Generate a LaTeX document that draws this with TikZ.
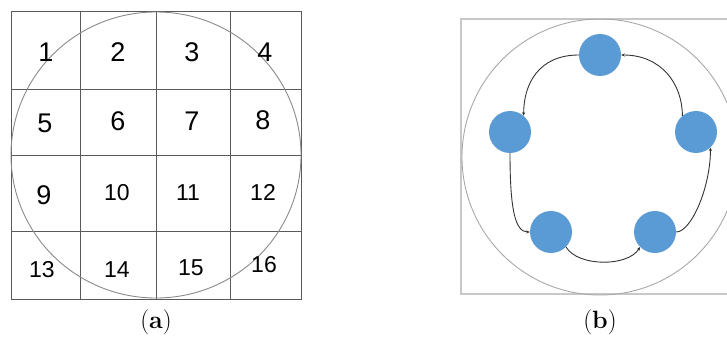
\documentclass[tikz,border=0pt]{standalone}
\usepackage{fontspec}
\newfontfamily\numfont{Liberation Sans}
\usepackage{xcolor}
\usepackage{tikz}
\usetikzlibrary{arrows.meta}
\definecolor{gridgray}{HTML}{5A5A5A}
\definecolor{ringgray}{HTML}{8A8A8A}
\definecolor{framegray}{HTML}{C8C8C8}
\definecolor{outergray}{HTML}{A8A8A8}
\definecolor{dotblue}{HTML}{5B9BD5}
\definecolor{flowgray}{HTML}{333333}
\tikzset{
  digbig/.style={font=\numfont\fontsize{27}{27}\selectfont,inner sep=0pt},
  digsmall/.style={font=\numfont\fontsize{23}{23}\selectfont,inner sep=0pt},
  dot/.style={circle,fill=dotblue,minimum size=42pt,inner sep=0pt},
  flow/.style={draw=flowgray,line width=0.9pt,-{Stealth[length=3.5pt,width=3pt]}},
  capt/.style={font=\fontsize{25}{30}\selectfont,inner sep=0pt}
}

\begin{document}
\begin{tikzpicture}[x=1pt,y=1pt]
  \useasboundingbox (0,0) rectangle (727,340);
  % (a) grid over the circle
  \draw[gridgray,line width=0.8pt] (11,41) rectangle (301,329);
  \foreach \x in {80,156,230} \draw[gridgray,line width=0.8pt] (\x,41)--(\x,329);
  \foreach \y in {109,185,251} \draw[gridgray,line width=0.8pt] (11,\y)--(301,\y);
  \draw[ringgray,line width=0.9pt] (156,185) ellipse (145 and 143);
  \foreach \k/\x/\y in {1/46/288,2/118/288,3/192/288,4/265/288,5/45/217,6/118/219,7/192/219,8/263/220,9/44/145}
    \node[digbig] (n\k) at (\x,\y) {\k};
  \foreach \k/\x/\y in {10/117/147,11/188/147,12/263/148,13/42/70,14/117/70,15/191/72,16/264/75}
    \node[digsmall] (n\k) at (\x,\y) {\k};
  \node[capt] (capa) at (156,18) {(\textbf{a})};

  % (b) frame, ring and the five points
  \begin{scope}
    \clip (0,0) rectangle (727,340);
    \draw[framegray,line width=1.2pt] (740,321)--(461,321)--(461,46)--(740,46);
    \draw[outergray,line width=0.9pt] (600,183) circle (138);
  \end{scope}
  \node[dot] (top) at (600,285) {};
  \node[dot] (lft) at (510,208) {};
  \node[dot] (rgt) at (696,208) {};
  \node[dot] (bl) at (551,108) {};
  \node[dot] (br) at (655,108) {};
  \draw[flow] (top.west) .. controls +(-40,0) and +(0,32) .. (lft.50);
  \draw[flow] (lft.south) .. controls +(0,-55) and +(-15,0) .. (bl.west);
  \draw[flow] (bl.-45) .. controls +(12,-20) and +(-12,-20) .. (br.225);
  \draw[flow] (br.east) .. controls +(15,0) and +(0,-40) .. (rgt.-47);
  \draw[flow] (rgt.130) .. controls +(0,32) and +(40,0) .. (top.east);
  \node[capt] (capb) at (600,18) {(\textbf{b})};
\end{tikzpicture}
\end{document}
